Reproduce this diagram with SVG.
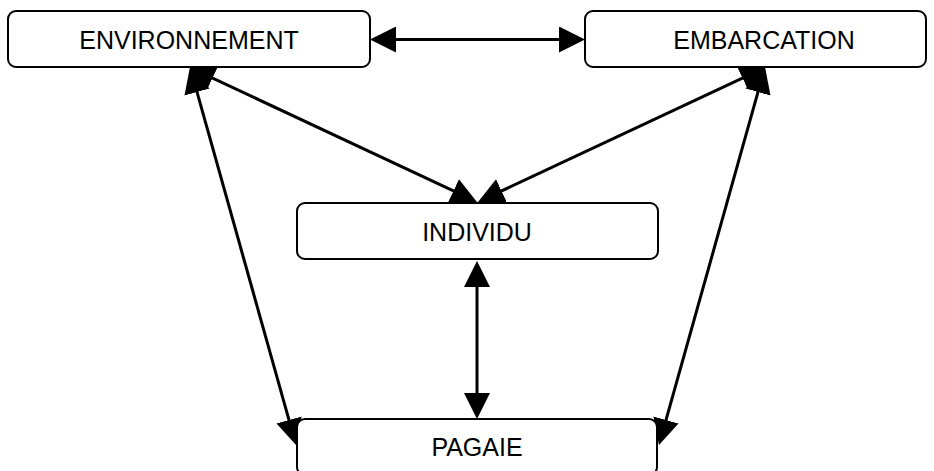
<svg xmlns="http://www.w3.org/2000/svg" width="934" height="471" viewBox="0 0 934 471">
  <style>
    .box { fill: #ffffff; stroke: #000000; stroke-width: 2; }
    .lbl { font-family: "Liberation Sans", Arial, sans-serif; font-size: 25px; fill: #000000; text-anchor: middle; }
    .conn { stroke: #000000; stroke-width: 3; fill: none; marker-start: url(#ah); marker-end: url(#ah); }
  </style>
  <defs>
    <marker id="ah" viewBox="0 0 26 26" markerWidth="26" markerHeight="26" refX="10" refY="13" markerUnits="userSpaceOnUse" orient="auto-start-reverse">
      <path d="M0,0 L26,13 L0,26 z" fill="#000000"/>
    </marker>
  </defs>
  <rect width="934" height="471" fill="#ffffff"/>
  <g id="connectors">
    <line class="conn" x1="386" y1="39.5" x2="569" y2="39.5"/>
    <line class="conn" x1="203.5" y1="73.8" x2="462.5" y2="195.2"/>
    <line class="conn" x1="751.5" y1="73.8" x2="492.5" y2="195.2"/>
    <line class="conn" x1="194.3" y1="82.4" x2="291.7" y2="429.6"/>
    <line class="conn" x1="760.7" y1="82.4" x2="663.3" y2="429.6"/>
    <line class="conn" x1="477" y1="277" x2="477" y2="403"/>
  </g>
  <g id="environnement">
    <rect class="box" x="8" y="11" width="362" height="56" rx="8"/>
    <text class="lbl" x="189" y="49">ENVIRONNEMENT</text>
  </g>
  <g id="embarcation">
    <rect class="box" x="585" y="11" width="341" height="56" rx="8"/>
    <text class="lbl" x="764" y="49">EMBARCATION</text>
  </g>
  <g id="individu">
    <rect class="box" x="297" y="203" width="361" height="56" rx="8"/>
    <text class="lbl" x="477" y="241">INDIVIDU</text>
  </g>
  <g id="pagaie">
    <rect class="box" x="297" y="419" width="360" height="56" rx="8"/>
    <text class="lbl" x="477" y="456">PAGAIE</text>
  </g>
</svg>
